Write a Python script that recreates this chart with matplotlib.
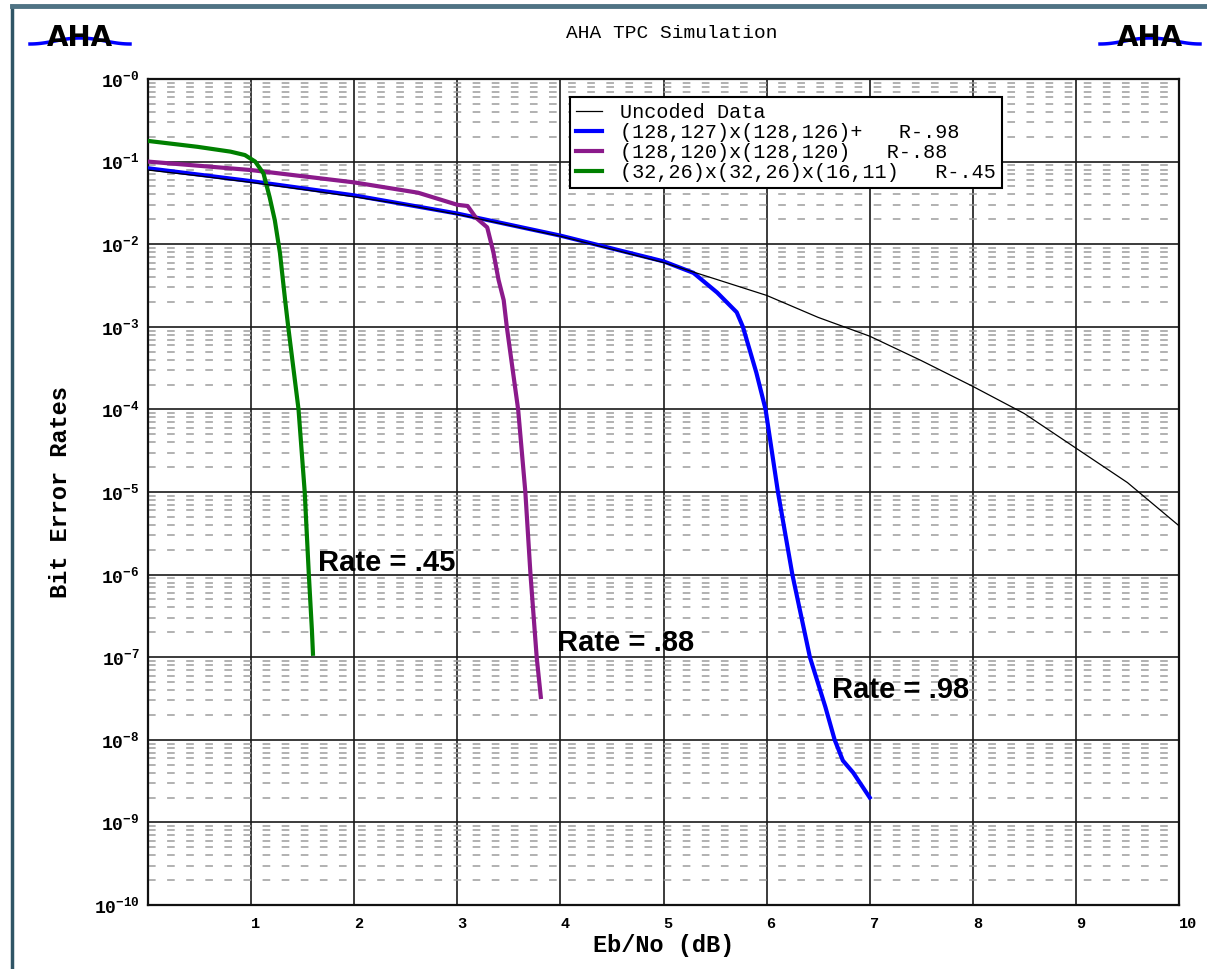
import numpy as np
import matplotlib
matplotlib.use("Agg")
import matplotlib.pyplot as plt
from matplotlib.ticker import LogLocator, NullLocator, NullFormatter
from matplotlib.lines import Line2D

# BER readings (Eb/No in dB -> bit error rate)
ebno_uncoded = [0, 0.5, 1, 1.5, 2, 2.5, 3, 3.5, 4, 4.5, 5, 5.5, 6, 6.5, 7, 7.5, 8, 8.5, 9, 9.5, 10]
ber_uncoded = [7.9e-2, 6.7e-2, 5.6e-2, 4.6e-2, 3.75e-2, 3.0e-2, 2.3e-2, 1.7e-2, 1.25e-2, 8.7e-3,
               6.0e-3, 3.8e-3, 2.4e-3, 1.3e-3, 7.7e-4, 3.9e-4, 1.9e-4, 8.9e-5, 3.4e-5, 1.3e-5, 3.9e-6]

ebno_r98 = [0, 1, 2, 3, 4, 5, 5.29, 5.52, 5.71, 5.77, 5.9, 5.99, 6.11, 6.25, 6.42,
            6.57, 6.66, 6.74, 6.84, 7.0]
ber_r98 = [8.3e-2, 5.8e-2, 3.9e-2, 2.35e-2, 1.27e-2, 6.2e-3, 4.5e-3, 2.6e-3, 1.5e-3, 1.0e-3,
           2.8e-4, 1.0e-4, 1.0e-5, 1.0e-6, 1.0e-7, 2.5e-8, 1.0e-8, 5.6e-9, 4.0e-9, 2.0e-9]

ebno_r88 = [0, 1, 2, 2.62, 3.0, 3.1, 3.18, 3.29, 3.35, 3.4, 3.45, 3.48, 3.59, 3.66, 3.71, 3.77, 3.81]
ber_r88 = [0.1, 0.079, 0.056, 0.042, 0.030, 0.029, 0.021, 0.016, 8e-3, 3.7e-3, 2.1e-3,
           1.0e-3, 1.0e-4, 1.0e-5, 1.0e-6, 1.0e-7, 3.3e-8]

ebno_r45 = [0, 0.48, 0.8, 0.94, 1.04, 1.12, 1.18, 1.23, 1.28, 1.33, 1.36, 1.46, 1.52, 1.56, 1.59, 1.6]
ber_r45 = [0.178, 0.151, 0.132, 0.12, 0.1, 0.072, 0.037, 0.0195, 7.8e-3, 2.1e-3, 1e-3, 1e-4,
           1e-5, 1e-6, 2.1e-7, 1.1e-7]

series_labels = ["Uncoded Data",
                 "(128,127)x(128,126)+   R-.98",
                 "(128,120)x(128,120)   R-.88",
                 "(32,26)x(32,26)x(16,11)   R-.45"]
rate_text = ["Rate = .45", "Rate = .88", "Rate = .98"]
rate_pos = [(1.65, 1.4e-6), (3.97, 1.5e-7), (6.63, 4.0e-8)]

decades = list(range(0, -11, -1))
ytick_labels = [r"$\mathbf{10^{-%d}}$" % (-d) for d in decades]
xticks = list(range(0, 11))
xtick_labels = [""] + [str(i) for i in range(1, 11)]

mono = "Liberation Mono"
plt.rcParams["mathtext.fontset"] = "custom"
plt.rcParams["mathtext.rm"] = mono
plt.rcParams["mathtext.bf"] = mono + ":bold"
plt.rcParams["mathtext.it"] = mono

W, H = 1207, 969
fig = plt.figure(figsize=(W / 100, H / 100), dpi=100)
ax = fig.add_axes([148 / W, 1 - 905 / H, (1179 - 148) / W, (905 - 79) / H])

ax.set_yscale("log")
ax.set_xlim(0, 10)
ax.set_ylim(1e-10, 1)

blue, = ax.plot(ebno_r98, ber_r98, color="#0000ff", lw=3.0, zorder=3)
purple, = ax.plot(ebno_r88, ber_r88, color="#8b1a8b", lw=3.0, zorder=3)
green, = ax.plot(ebno_r45, ber_r45, color="#008000", lw=3.0, zorder=3)
black, = ax.plot(ebno_uncoded, ber_uncoded, color="black", lw=0.9, zorder=4)

ax.set_yticks([10.0 ** d for d in decades])
ax.set_yticklabels(ytick_labels)
ax.yaxis.set_minor_locator(LogLocator(base=10, subs=np.arange(2, 10), numticks=100))
ax.yaxis.set_minor_formatter(NullFormatter())
ax.set_xticks(xticks)
ax.set_xticklabels(xtick_labels, fontfamily=mono, fontweight="bold")
ax.xaxis.set_minor_locator(NullLocator())
for lbl in ax.get_xticklabels():
    lbl.set_horizontalalignment("left")

ax.tick_params(axis="both", which="both", length=0)
ax.tick_params(axis="x", pad=9, labelsize=11)
ax.tick_params(axis="y", pad=6, labelsize=13)

ax.set_axisbelow(True)
ax.grid(which="major", axis="both", color="#1a1a1a", lw=1.2, ls="-")
ax.grid(which="minor", axis="y", color="#9c9c9c", lw=1.1, ls=(0, (5, 7.5)))
for s in ax.spines.values():
    s.set_linewidth(1.6)
    s.set_color("#111111")

ax.set_xlabel("Eb/No (dB)", fontfamily=mono, fontweight="bold", fontsize=17, labelpad=2)
ax.set_ylabel("Bit Error Rates", fontfamily=mono, fontweight="bold", fontsize=17, labelpad=16)

leg = ax.legend([black, blue, purple, green], series_labels, loc="upper left",
                bbox_to_anchor=(0.409, 0.978), borderaxespad=0, fancybox=False,
                prop={"family": mono, "size": 14.5}, handlelength=1.3, handletextpad=0.9,
                labelspacing=0.05, borderpad=0.3, framealpha=1)
leg.get_frame().set_edgecolor("black")
leg.get_frame().set_linewidth(1.5)

for txt, (x, y) in zip(rate_text, rate_pos):
    ax.text(x, y, txt, fontfamily="Liberation Sans", fontweight="bold", fontsize=21,
            ha="left", va="center", zorder=5)

fig.text(672 / W, 1 - 33 / H, "AHA TPC Simulation", fontfamily=mono, fontsize=14,
         ha="center", va="center")

# logos and outer frame
for cx in (80, 1150):
    fig.text(cx / W, 1 - 38 / H, "AHA", fontfamily="DejaVu Sans", fontweight="heavy",
             fontsize=20, ha="center", va="center", zorder=3)
    t = np.linspace(-1, 1, 40)
    xs = (cx + 50 * t) / W
    ys = 1 - (44 - 6 * np.cos(t * np.pi / 2) ** 2) / H
    fig.add_artist(Line2D(xs, ys, color="#0000ff", lw=2.5, zorder=2))

fig.add_artist(Line2D([12 / W, 12 / W], [0, 1 - 6 / H], color="#2f5566", lw=2.5))
fig.add_artist(Line2D([12 / W, 1], [1 - 6 / H, 1 - 6 / H], color="#4f7384", lw=3.5))

fig.savefig("out.png", dpi=100)
